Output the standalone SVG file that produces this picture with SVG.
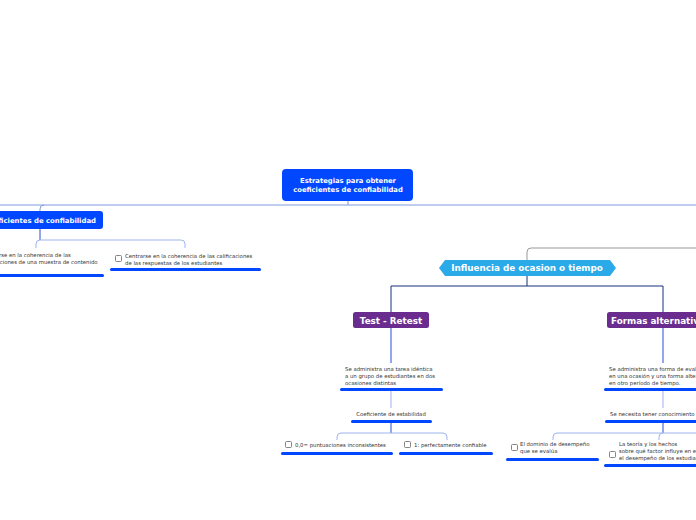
<svg xmlns="http://www.w3.org/2000/svg" width="696" height="520" viewBox="0 0 696 520">
<style>
.t{font-family:"DejaVu Sans",Verdana,sans-serif;font-size:5.35px;fill:#333}
.b{font-family:"DejaVu Sans",Verdana,sans-serif;font-weight:bold;fill:#fff}
.bar{fill:#0047ff}
.cb{fill:#fff;stroke:#666;stroke-width:0.8}
.c{fill:none;stroke-width:1}
</style>
<rect width="696" height="520" fill="#fff"/>
<g id="connectors">
<path class="c" stroke="#7f9be0" d="M0 205H696M348 201V205M44 205Q40 205 40 209V211"/>
<path class="c" stroke="#2a4fd8" d="M40 229V240"/>
<path class="c" stroke="#9fb5f0" d="M36 248V244Q36 240 40 240H181Q185 240 185 244V248"/>
<path class="c" stroke="#999" d="M696 248H531Q527 248 527 252V260"/>
<path class="c" stroke="#16307a" d="M527 276V286M391 312V286H663V312"/>
<path class="c" stroke="#2a4fd8" d="M391 328V363M663 328V363"/>
<path class="c" stroke="#9fb5f0" d="M391 391V408M663 391V408"/>
<path class="c" stroke="#2a4fd8" d="M391 423V433M663 423V433"/>
<path class="c" stroke="#9fb5f0" d="M337 440V437Q337 433 341 433H443Q447 433 447 437V440M553 440V437Q553 433 557 433H696M659 440V437Q659 433 663 433"/>
</g>
<g id="root">
<rect x="282" y="169" width="131" height="32" rx="4" fill="#0047ff"/>
<text class="b" font-size="6.8" text-anchor="middle"><tspan x="348" y="183">Estrategias para obtener</tspan><tspan x="348" y="192">coeficientes de confiabilidad</tspan></text>
</g>
<g id="coeficientes">
<rect x="-10" y="211" width="113" height="18" rx="3" fill="#0047ff"/>
<text class="b" font-size="6.9" x="96" y="222.5" text-anchor="end">Coeficientes de confiabilidad</text>
</g>
<g id="contenido">
<text class="t"><tspan x="-19" y="257">Centrarse en la coherencia de las</tspan><tspan x="-19" y="264">calificaciones de una muestra de contenido</tspan></text>
<rect class="bar" x="-4" y="274" width="108" height="3" rx="1.5"/>
</g>
<g id="estudiantes">
<rect class="cb" x="115.5" y="255.5" width="6" height="6" rx="1"/>
<text class="t"><tspan x="125" y="258">Centrarse en la coherencia de las calificaciones</tspan><tspan x="125" y="265">de las respuestas de los estudiantes</tspan></text>
<rect class="bar" x="110" y="268" width="151" height="3" rx="1.5"/>
</g>
<g id="influencia">
<polygon points="445,260 610,260 616,268 610,276 445,276 439,268" fill="#2aaae8"/>
<text class="b" font-size="8.8" x="527" y="271.2" text-anchor="middle">Influencia de ocasion o tiempo</text>
</g>
<g id="testretest">
<rect x="353" y="312" width="76" height="16" rx="2.5" fill="#6a2d8f"/>
<text class="b" font-size="8.8" x="391" y="323.5" text-anchor="middle">Test - Retest</text>
</g>
<g id="formas">
<rect x="607" y="312" width="100" height="16" rx="2.5" fill="#6a2d8f"/>
<text class="b" font-size="8.8" x="611" y="323.5">Formas alternativas</text>
</g>
<g id="tarea">
<text class="t"><tspan x="345" y="371">Se administra una tarea idéntica</tspan><tspan x="345" y="378">a un grupo de estudiantes en dos</tspan><tspan x="345" y="385">ocasiones distintas</tspan></text>
<rect class="bar" x="340" y="388" width="103" height="3" rx="1.5"/>
</g>
<g id="estabilidad">
<text class="t" x="391" y="415.5" text-anchor="middle">Coeficiente de estabilidad</text>
<rect class="bar" x="351" y="420" width="81" height="3" rx="1.5"/>
</g>
<g id="inconsistentes">
<rect class="cb" x="285.5" y="441.5" width="6" height="6" rx="1"/>
<text class="t" x="295" y="447">0,0= puntuaciones inconsistentes</text>
<rect class="bar" x="281" y="452" width="112" height="3" rx="1.5"/>
</g>
<g id="confiable">
<rect class="cb" x="404.5" y="441.5" width="6" height="6" rx="1"/>
<text class="t" x="414" y="447">1: perfectamente confiable</text>
<rect class="bar" x="399" y="452" width="94" height="3" rx="1.5"/>
</g>
<g id="forma">
<text class="t"><tspan x="609" y="371">Se administra una forma de evaluación</tspan><tspan x="609" y="378">en una ocasión y una forma alternativa</tspan><tspan x="609" y="385">en otro período de tiempo.</tspan></text>
<rect class="bar" x="604" y="388" width="100" height="3" rx="1.5"/>
</g>
<g id="conocimiento">
<text class="t" x="610" y="415.5">Se necesita tener conocimiento</text>
<rect class="bar" x="605" y="420" width="100" height="3" rx="1.5"/>
</g>
<g id="dominio">
<rect class="cb" x="511.5" y="444.5" width="6" height="6" rx="1"/>
<text class="t"><tspan x="520" y="446">El dominio de desempeño</tspan><tspan x="520" y="453">que se evalúa</tspan></text>
<rect class="bar" x="506" y="458" width="93" height="3" rx="1.5"/>
</g>
<g id="teoria">
<rect class="cb" x="609.5" y="451.5" width="6" height="6" rx="1"/>
<text class="t"><tspan x="619" y="446">La teoría y los hechos</tspan><tspan x="619" y="453">sobre qué factor influye en el</tspan><tspan x="619" y="460">el desempeño de los estudiantes</tspan></text>
<rect class="bar" x="604" y="464" width="100" height="3" rx="1.5"/>
</g>
</svg>
